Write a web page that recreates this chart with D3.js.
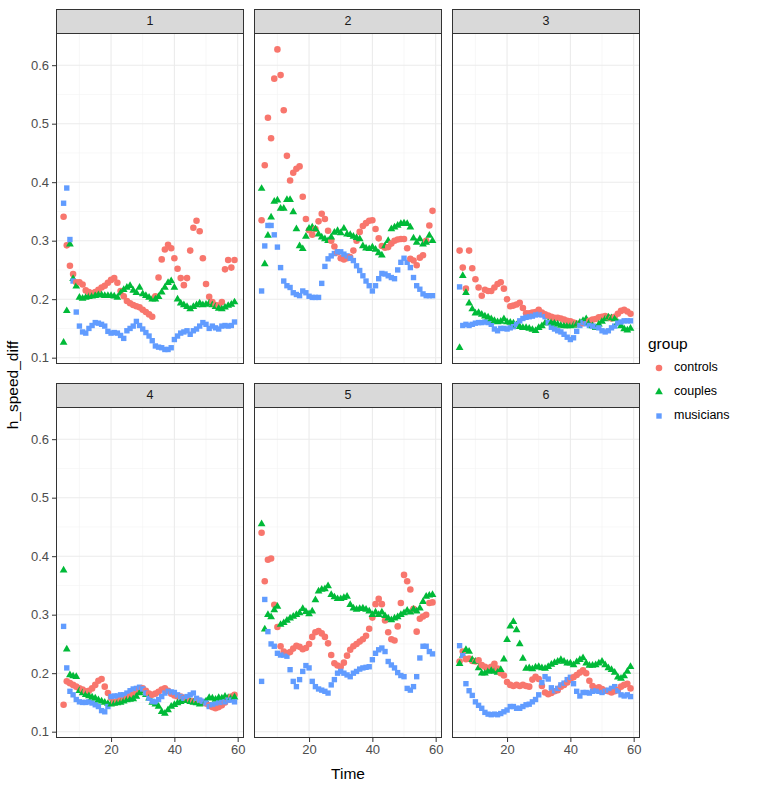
<!DOCTYPE html>
<html><head><meta charset="utf-8">
<script src="https://cdn.jsdelivr.net/npm/d3@7"></script>
<style>
body{margin:0;background:#fff;}
svg text{font-family:"Liberation Sans",Arial,sans-serif;}
</style></head>
<body><svg id="chart" width="767" height="785"></svg>
<script>
const times = [5,6,7,8,9,10,11,12,13,14,15,16,17,18,19,20,21,22,23,24,25,26,27,28,29,30,31,32,33,34,35,36,37,38,39,40,41,42,43,44,45,46,47,48,49,50,51,52,53,54,55,56,57,58,59];
const panels = ["1","2","3","4","5","6"];
const groups = ["controls","couples","musicians"];
const xTicks = [20,40,60];
const yTicks = [0.1,0.2,0.3,0.4,0.5,0.6];

const controls1 = [0.341,0.292,0.257,0.243,0.229,0.229,0.225,0.215,0.212,0.21,0.212,0.216,0.22,0.223,0.228,0.233,0.236,0.228,0.214,0.205,0.197,0.193,0.19,0.188,0.186,0.182,0.178,0.174,0.17,0.205,0.237,0.268,0.285,0.293,0.287,0.27,0.252,0.236,0.224,0.236,0.283,0.322,0.334,0.316,0.27,0.226,0.204,0.195,0.19,0.189,0.195,0.251,0.267,0.254,0.267];
const couples1 = [0.126,0.18,0.294,0.235,0.222,0.203,0.201,0.203,0.204,0.205,0.206,0.207,0.207,0.206,0.206,0.206,0.205,0.203,0.21,0.216,0.22,0.223,0.215,0.211,0.22,0.209,0.206,0.203,0.2,0.2,0.204,0.212,0.22,0.228,0.231,0.22,0.2,0.193,0.19,0.187,0.183,0.187,0.19,0.193,0.19,0.191,0.193,0.19,0.187,0.184,0.183,0.186,0.189,0.191,0.195];
const musicians1 = [0.364,0.39,0.302,0.231,0.178,0.154,0.144,0.142,0.15,0.155,0.16,0.159,0.157,0.154,0.145,0.142,0.143,0.142,0.138,0.133,0.146,0.15,0.154,0.162,0.155,0.149,0.143,0.137,0.129,0.12,0.118,0.117,0.114,0.114,0.117,0.131,0.137,0.142,0.144,0.146,0.14,0.146,0.149,0.154,0.16,0.157,0.15,0.154,0.151,0.149,0.154,0.155,0.154,0.155,0.161];

const controls2 = [0.335,0.429,0.51,0.475,0.577,0.627,0.583,0.523,0.445,0.403,0.416,0.423,0.427,0.375,0.337,0.318,0.31,0.32,0.333,0.346,0.337,0.317,0.3,0.29,0.28,0.27,0.268,0.27,0.272,0.283,0.3,0.315,0.325,0.33,0.334,0.335,0.32,0.304,0.291,0.288,0.289,0.295,0.3,0.302,0.303,0.303,0.287,0.269,0.266,0.258,0.271,0.275,0.3,0.326,0.351];
const couples2 = [0.389,0.26,0.309,0.34,0.367,0.369,0.355,0.355,0.37,0.37,0.349,0.32,0.291,0.286,0.307,0.321,0.323,0.32,0.311,0.306,0.303,0.3,0.306,0.314,0.317,0.313,0.321,0.311,0.31,0.307,0.305,0.303,0.291,0.287,0.286,0.289,0.285,0.279,0.275,0.291,0.3,0.32,0.323,0.326,0.329,0.33,0.329,0.323,0.304,0.297,0.303,0.294,0.297,0.309,0.3];
const musicians2 = [0.214,0.291,0.326,0.326,0.31,0.289,0.254,0.231,0.223,0.22,0.211,0.208,0.206,0.214,0.211,0.205,0.203,0.203,0.203,0.227,0.256,0.269,0.274,0.278,0.281,0.281,0.277,0.274,0.27,0.266,0.257,0.249,0.24,0.231,0.223,0.214,0.223,0.235,0.244,0.243,0.24,0.237,0.235,0.25,0.263,0.27,0.263,0.254,0.237,0.223,0.217,0.209,0.206,0.206,0.206];

const controls3 = [0.283,0.254,0.218,0.283,0.253,0.234,0.22,0.206,0.216,0.214,0.214,0.22,0.226,0.229,0.218,0.2,0.188,0.189,0.191,0.194,0.185,0.176,0.176,0.177,0.178,0.182,0.177,0.174,0.172,0.17,0.168,0.168,0.167,0.165,0.163,0.162,0.16,0.158,0.158,0.159,0.161,0.163,0.165,0.166,0.169,0.17,0.171,0.169,0.167,0.17,0.175,0.18,0.182,0.179,0.175];
const couples3 = [0.117,0.24,0.211,0.193,0.183,0.176,0.177,0.174,0.171,0.169,0.166,0.163,0.161,0.162,0.166,0.161,0.16,0.159,0.156,0.153,0.151,0.151,0.15,0.148,0.146,0.151,0.154,0.159,0.16,0.16,0.159,0.157,0.155,0.154,0.154,0.154,0.155,0.157,0.16,0.163,0.166,0.16,0.154,0.151,0.157,0.162,0.166,0.169,0.168,0.166,0.16,0.154,0.149,0.147,0.15];
const musicians3 = [0.221,0.155,0.157,0.155,0.157,0.159,0.16,0.16,0.161,0.16,0.157,0.149,0.146,0.15,0.15,0.149,0.151,0.153,0.157,0.163,0.167,0.169,0.17,0.171,0.173,0.174,0.173,0.17,0.16,0.152,0.149,0.146,0.144,0.14,0.135,0.131,0.134,0.145,0.155,0.16,0.158,0.155,0.154,0.153,0.151,0.146,0.144,0.146,0.151,0.154,0.159,0.161,0.163,0.163,0.163];

const controls4 = [0.146,0.186,0.183,0.18,0.177,0.174,0.172,0.169,0.17,0.174,0.18,0.187,0.19,0.177,0.166,0.158,0.15,0.152,0.154,0.155,0.157,0.16,0.163,0.167,0.172,0.174,0.17,0.165,0.163,0.165,0.168,0.172,0.174,0.17,0.165,0.162,0.16,0.16,0.158,0.155,0.153,0.152,0.152,0.153,0.15,0.148,0.145,0.142,0.14,0.142,0.145,0.15,0.155,0.16,0.163];
const couples4 = [0.376,0.241,0.197,0.195,0.194,0.17,0.166,0.163,0.161,0.159,0.157,0.154,0.152,0.15,0.148,0.147,0.148,0.149,0.15,0.152,0.154,0.155,0.156,0.16,0.166,0.169,0.163,0.157,0.15,0.147,0.143,0.134,0.131,0.137,0.143,0.146,0.149,0.151,0.154,0.153,0.151,0.15,0.149,0.147,0.148,0.152,0.158,0.157,0.155,0.158,0.157,0.16,0.158,0.158,0.159];
const musicians4 = [0.28,0.209,0.169,0.163,0.155,0.151,0.15,0.15,0.151,0.149,0.146,0.143,0.136,0.134,0.143,0.16,0.161,0.161,0.163,0.163,0.166,0.17,0.173,0.174,0.176,0.173,0.166,0.157,0.152,0.151,0.155,0.16,0.166,0.169,0.168,0.167,0.163,0.16,0.157,0.16,0.163,0.166,0.157,0.154,0.152,0.149,0.143,0.146,0.147,0.149,0.15,0.151,0.154,0.154,0.151];

const controls5 = [0.44,0.357,0.394,0.396,0.317,0.279,0.246,0.237,0.234,0.236,0.242,0.247,0.245,0.241,0.243,0.25,0.262,0.27,0.272,0.268,0.262,0.251,0.231,0.217,0.213,0.211,0.218,0.23,0.24,0.246,0.25,0.254,0.258,0.264,0.276,0.295,0.318,0.327,0.318,0.29,0.27,0.258,0.256,0.28,0.32,0.368,0.357,0.343,0.31,0.271,0.293,0.297,0.3,0.32,0.321];
const couples5 = [0.455,0.275,0.3,0.296,0.308,0.314,0.283,0.286,0.29,0.294,0.297,0.3,0.303,0.31,0.305,0.301,0.306,0.325,0.34,0.343,0.344,0.349,0.334,0.33,0.327,0.327,0.329,0.331,0.317,0.311,0.309,0.31,0.311,0.309,0.306,0.3,0.304,0.3,0.304,0.298,0.294,0.291,0.294,0.296,0.3,0.303,0.307,0.304,0.309,0.306,0.311,0.322,0.331,0.333,0.334];
const musicians5 = [0.186,0.326,0.271,0.25,0.246,0.234,0.231,0.231,0.229,0.206,0.186,0.177,0.189,0.203,0.213,0.209,0.186,0.177,0.173,0.171,0.169,0.166,0.18,0.189,0.2,0.203,0.2,0.197,0.194,0.2,0.203,0.207,0.209,0.21,0.211,0.223,0.234,0.24,0.243,0.237,0.22,0.214,0.209,0.201,0.196,0.194,0.174,0.171,0.177,0.194,0.226,0.246,0.246,0.237,0.233];

const controls6 = [0.22,0.237,0.224,0.225,0.221,0.22,0.222,0.214,0.211,0.209,0.211,0.216,0.208,0.2,0.196,0.185,0.18,0.178,0.18,0.178,0.18,0.178,0.177,0.189,0.194,0.19,0.178,0.167,0.164,0.166,0.169,0.171,0.177,0.18,0.184,0.189,0.193,0.197,0.201,0.205,0.2,0.187,0.178,0.174,0.176,0.173,0.17,0.169,0.167,0.169,0.171,0.177,0.18,0.182,0.174];
const couples6 = [0.216,0.23,0.24,0.237,0.223,0.22,0.209,0.2,0.2,0.203,0.204,0.203,0.201,0.206,0.224,0.257,0.28,0.288,0.274,0.25,0.225,0.208,0.209,0.207,0.21,0.211,0.209,0.208,0.211,0.215,0.218,0.22,0.223,0.22,0.217,0.217,0.214,0.219,0.223,0.226,0.217,0.213,0.213,0.214,0.217,0.22,0.214,0.209,0.206,0.201,0.193,0.191,0.195,0.203,0.211];
const musicians6 = [0.247,0.23,0.182,0.17,0.162,0.151,0.145,0.14,0.133,0.13,0.129,0.13,0.129,0.131,0.134,0.137,0.143,0.143,0.14,0.14,0.143,0.146,0.147,0.151,0.155,0.163,0.184,0.194,0.19,0.175,0.17,0.174,0.18,0.183,0.189,0.193,0.182,0.169,0.161,0.167,0.167,0.166,0.169,0.17,0.169,0.167,0.169,0.171,0.174,0.177,0.17,0.163,0.161,0.163,0.16];

const seriesByPanel = [
  [controls1,couples1,musicians1],
  [controls2,couples2,musicians2],
  [controls3,couples3,musicians3],
  [controls4,couples4,musicians4],
  [controls5,couples5,musicians5],
  [controls6,couples6,musicians6]
];

const colors = {controls:"#F8766D", couples:"#00BA38", musicians:"#619CFF"};
const shapes = {controls:d3.symbolCircle, couples:d3.symbolTriangle, musicians:d3.symbolSquare};
const sizes = {controls:34, couples:26, musicians:29};

const svg = d3.select("#chart");
const colX = [56,254,452], pw = 188;
const rowY = [33,407], ph = 331, stripH = 24;

const x = d3.scaleLinear().domain([2.6,62]).range([0,pw]);
const y = d3.scaleLinear().domain([0.0892,0.655]).range([ph,0]);
const xMinor = [10,30,50];
const yMinor = [0.15,0.25,0.35,0.45,0.55];

panels.forEach((p,i)=>{
  const c = i%3, r = Math.floor(i/3);
  const g = svg.append("g").attr("transform",`translate(${colX[c]},${rowY[r]})`);
  g.append("rect").attr("width",pw).attr("height",ph).attr("fill","#fff");
  g.selectAll(".vmin").data(xMinor).enter().append("line")
    .attr("x1",d=>x(d)).attr("x2",d=>x(d)).attr("y1",0).attr("y2",ph)
    .attr("stroke","#f2f2f2").attr("stroke-width",0.6);
  g.selectAll(".hmin").data(yMinor).enter().append("line")
    .attr("y1",d=>y(d)).attr("y2",d=>y(d)).attr("x1",0).attr("x2",pw)
    .attr("stroke","#f2f2f2").attr("stroke-width",0.6);
  g.selectAll(".vmaj").data(xTicks).enter().append("line")
    .attr("x1",d=>x(d)).attr("x2",d=>x(d)).attr("y1",0).attr("y2",ph)
    .attr("stroke","#ebebeb").attr("stroke-width",1.1);
  g.selectAll(".hmaj").data(yTicks).enter().append("line")
    .attr("y1",d=>y(d)).attr("y2",d=>y(d)).attr("x1",0).attr("x2",pw)
    .attr("stroke","#ebebeb").attr("stroke-width",1.1);

  const pts = [];
  times.forEach((t,k)=>{
    groups.forEach((gr,j)=>{ pts.push({t:t, v:seriesByPanel[i][j][k], g:gr}); });
  });
  g.selectAll(".pt").data(pts).enter().append("path")
    .attr("d",d=>d3.symbol().type(shapes[d.g]).size(sizes[d.g])())
    .attr("transform",d=>`translate(${x(d.t)},${y(d.v)})`)
    .attr("fill",d=>colors[d.g]);

  g.append("rect").attr("x",0.5).attr("y",0.5).attr("width",pw-1).attr("height",ph-1)
    .attr("fill","none").attr("stroke","#333").attr("stroke-width",1);

  const s = svg.append("g").attr("transform",`translate(${colX[c]},${rowY[r]-stripH})`);
  s.append("rect").attr("x",0.5).attr("y",0.5).attr("width",pw-1).attr("height",stripH)
    .attr("fill","#d9d9d9").attr("stroke","#333").attr("stroke-width",1);
  s.append("text").attr("x",pw/2).attr("y",stripH/2+1).attr("text-anchor","middle")
    .attr("dominant-baseline","middle").attr("font-size",12.5).attr("fill","#1a1a1a").text(p);

  if (c===0){
    const ax = svg.append("g").attr("transform",`translate(${colX[c]},${rowY[r]})`)
      .call(d3.axisLeft(y).tickValues(yTicks).tickFormat(d3.format(".1f")).tickSize(4).tickPadding(3));
    ax.select(".domain").remove();
    ax.selectAll("line").attr("stroke","#333");
    ax.selectAll("text").attr("font-size",13).attr("fill","#4d4d4d").attr("font-family","Liberation Sans, Arial, sans-serif");
  }
  if (r===1){
    const ax = svg.append("g").attr("transform",`translate(${colX[c]},${rowY[r]+ph})`)
      .call(d3.axisBottom(x).tickValues(xTicks).tickFormat(d3.format("d")).tickSize(4).tickPadding(3));
    ax.select(".domain").remove();
    ax.selectAll("line").attr("stroke","#333");
    ax.selectAll("text").attr("font-size",13).attr("fill","#4d4d4d").attr("font-family","Liberation Sans, Arial, sans-serif");
  }
});

svg.append("text").attr("x",348).attr("y",779).attr("text-anchor","middle")
  .attr("font-size",15.5).attr("fill","#000").text("Time");
svg.append("text").attr("transform","translate(18,385) rotate(-90)").attr("text-anchor","middle")
  .attr("font-size",15.5).attr("fill","#000").text("h_speed_diff");

const lg = svg.append("g").attr("transform","translate(648,333)");
lg.append("text").attr("x",0).attr("y",16).attr("font-size",15.5).attr("fill","#000").text("group");
groups.forEach((gr,j)=>{
  const yy = 35 + j*24;
  lg.append("rect").attr("x",0).attr("y",yy-11).attr("width",22).attr("height",22).attr("fill","#fff");
  lg.append("path").attr("d",d3.symbol().type(shapes[gr]).size(sizes[gr])())
    .attr("transform",`translate(11,${yy})`).attr("fill",colors[gr]);
  lg.append("text").attr("x",26).attr("y",yy).attr("dominant-baseline","middle")
    .attr("font-size",12.5).attr("fill","#000").text(gr);
});
</script></body></html>
